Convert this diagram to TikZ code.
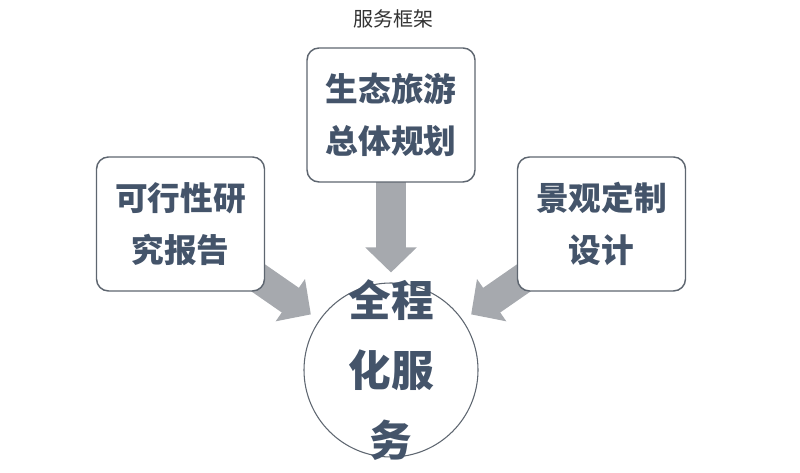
\documentclass[tikz,border=0pt]{standalone}
\usepackage{fontspec}
\newfontfamily\cjk{Noto Sans CJK SC}
\usetikzlibrary{arrows.meta,backgrounds}
\definecolor{chuxam}{HTML}{44546A}
\definecolor{vienxam}{HTML}{5E6670}
\definecolor{muitenxam}{HTML}{A6A9AE}
\begin{document}
\begin{tikzpicture}[line join = round, x=0.75pt, y=-0.75pt,
	hop/.style={draw=vienxam, line width=1.1pt, rounded corners=9pt, fill=white,
		minimum width=126pt, minimum height=100.5pt, inner sep=0pt,
		align=center, text=chuxam, font=\cjk\bfseries\fontsize{24.5pt}{39pt}\selectfont},
	tron/.style={draw=vienxam, line width=0.8pt, circle, minimum size=130.5pt, inner sep=0pt},
	chutron/.style={align=center, text=chuxam, inner sep=0pt,
		font=\cjk\bfseries\fontsize{32pt}{52.5pt}\selectfont},
	muiten/.style={draw=muitenxam, line width=22.5pt, line cap=butt, shorten >=7.5pt,
		-{Triangle[width=37.5pt,length=18.75pt]}}]
	%Khung hình
	\useasboundingbox (0,0) rectangle (800,473);
	%Tiêu đề
	\node[font=\cjk\fontsize{15pt}{18pt}\selectfont, text=black!80] (tieude) at (393,19) {服务框架};
	%Các hộp
	\node[hop] (tren) at (391,115) {生态旅游\\总体规划};
	\node[hop] (trai) at (180.5,224) {可行性研\\究报告};
	\node[hop] (phai) at (601.5,224) {景观定制\\设计};
	%Hình tròn ở giữa
	\node[tron] (giua) at (391,370) {};
	\node[chutron] (chugiua) at (giua) {全程\\化服\\务};
	%Vẽ các mũi tên
	\begin{scope}[on background layer]
		\foreach \h in {tren,trai,phai}
		\draw[muiten] (\h.center) -- (giua);
	\end{scope}
\end{tikzpicture}
\end{document}
